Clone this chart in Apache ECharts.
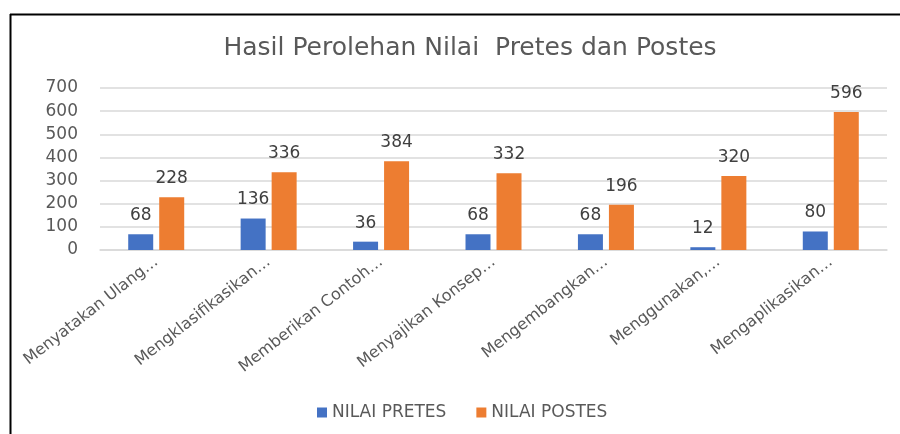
<!DOCTYPE html>
<html>
<head>
<meta charset="utf-8">
<script src="https://cdn.jsdelivr.net/npm/echarts@6/dist/echarts.min.js"></script>
<style>
  html, body { margin: 0; padding: 0; background: #fff; }
  #chart { width: 900px; height: 434px; }
</style>
</head>
<body>
<div id="chart"></div>
<script>
const categories = [
    'Menyatakan Ulang…',
    'Mengklasifikasikan…',
    'Memberikan Contoh…',
    'Menyajikan Konsep…',
    'Mengembangkan…',
    'Menggunakan,…',
    'Mengaplikasikan…'
]
const pretes = [68, 136, 36, 68, 68, 12, 80]
const postes = [228, 336, 384, 332, 196, 320, 596]
const yTicks = [0, 100, 200, 300, 400, 500, 600, 700]

const chart = echarts.init(document.getElementById('chart'))
const font = 'DejaVu Sans'

const option = {
    animation: false,
    backgroundColor: '#fff',
    title: {
        text: 'Hasil Perolehan Nilai  Pretes dan Postes',
        left: 465,
        top: 31,
        textAlign: 'center',
        textStyle: { fontFamily: font, fontSize: 25, fontWeight: 'normal', color: '#595959' }
    },
    // garis tepi kiri dan atas
    graphic: [
        { type: 'line', shape: { x1: 10.5, y1: 14, x2: 10.5, y2: 434 }, style: { stroke: '#000', lineWidth: 2 } },
        { type: 'line', shape: { x1: 10, y1: 14.5, x2: 900, y2: 14.5 }, style: { stroke: '#000', lineWidth: 2 } }
    ],
    legend: {
        top: 399,
        left: 312,
        itemWidth: 10,
        itemHeight: 10,
        itemGap: 30,
        icon: 'rect',
        textStyle: { fontFamily: font, fontSize: 17, color: '#595959' }
    },
    grid: { left: 100, right: 13, top: 88, bottom: 184, containLabel: false },
    xAxis: {
        type: 'category',
        data: categories,
        axisLine: { lineStyle: { color: '#d9d9d9', width: 1.5 } },
        axisTick: { show: false },
        axisLabel: {
            rotate: 38,
            interval: 0,
            margin: 10,
            fontFamily: font,
            fontSize: 16,
            color: '#595959'
        }
    },
    yAxis: {
        type: 'value',
        min: yTicks[0],
        max: yTicks[yTicks.length - 1],
        interval: 100,
        axisLine: { show: false },
        axisTick: { show: false },
        splitLine: { lineStyle: { color: '#d9d9d9', width: 1.5 } },
        axisLabel: { margin: 22, fontFamily: font, fontSize: 17, color: '#595959' }
    },
    series: [
        {
            name: 'NILAI PRETES',
            type: 'bar',
            data: pretes,
            barWidth: 25,
            barGap: '24%',
            itemStyle: { color: '#4472c4' },
            label: { show: true, position: 'top', distance: 10, fontFamily: font, fontSize: 17, color: '#404040' }
        },
        {
            name: 'NILAI POSTES',
            type: 'bar',
            data: postes,
            barWidth: 25,
            barGap: '24%',
            itemStyle: { color: '#ed7d31' },
            label: { show: true, position: 'top', distance: 10, fontFamily: font, fontSize: 17, color: '#404040' }
        }
    ]
}
chart.setOption(option)
</script>
</body>
</html>
